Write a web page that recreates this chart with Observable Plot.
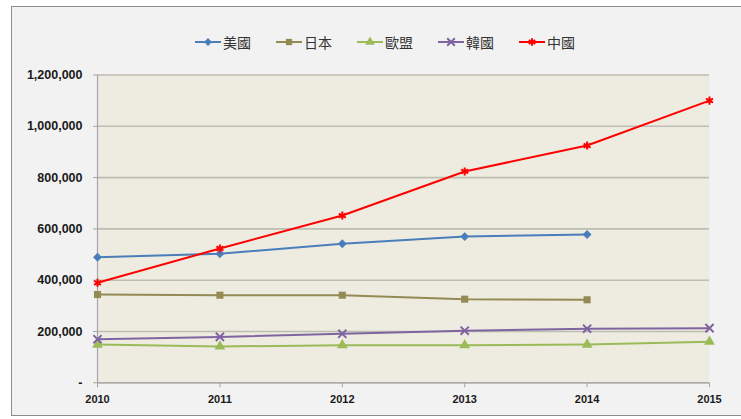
<!DOCTYPE html>
<html><head><meta charset="utf-8">
<script src="https://cdn.jsdelivr.net/npm/d3@7"></script>
<script src="https://cdn.jsdelivr.net/npm/@observablehq/plot@0.6"></script>
<style>
body{margin:0;background:#fff;}
#wrap{position:relative;width:741px;height:419px;overflow:hidden;background:#fff;}
#frame{position:absolute;left:11px;top:6px;width:740px;height:410px;border:1px solid #8c8c8c;background:#f2f2f2;box-sizing:border-box;}
#legend{position:absolute;left:195px;top:33px;height:18px;display:flex;align-items:center;font-family:"Noto Sans CJK TC",sans-serif;font-size:14px;color:#333;}
.item{display:flex;align-items:center;margin-right:25px;}
.item svg{display:block;}
#chart{position:absolute;left:0;top:0;}
</style></head>
<body>
<div id="wrap"><div id="frame"></div><div id="legend"></div><div id="chart"></div></div>
<script>
const years = [2010, 2011, 2012, 2013, 2014, 2015];
const series = ["美國", "日本", "歐盟", "韓國", "中國"];
const usa   = [489700, 503000, 542000, 570000, 578000, null];
const japan = [344000, 341500, 341500, 326000, 323600, null];
const eu    = [149000, 141500, 146600, 146600, 149000, 160000];
const korea = [170000, 179000, 191000, 203000, 211000, 213000];
const china = [390000, 523600, 652000, 824000, 925000, 1100000];
const yTicks = [0, 200000, 400000, 600000, 800000, 1000000, 1200000];
const colors = ["#4a7ebb", "#948a54", "#9bbb59", "#8064a2", "#ff0000"];
const symbols = ["diamond2", "square", "triangle", "times", "asterisk"];
const filledSeries = ["美國", "日本", "歐盟"];

const valuesBySeries = [usa, japan, eu, korea, china];
const data = [];
series.forEach((s, i) => years.forEach((yr, j) => {
  const v = valuesBySeries[i][j];
  if (v != null) data.push({series: s, year: yr, value: v});
}));

const yFmt = d => d === 0 ? "-" : d3.format(",")(d);

const chart = Plot.plot({
  width: 741, height: 419,
  marginLeft: 97, marginRight: 32, marginTop: 74.5, marginBottom: 36.7,
  style: {background: "transparent", fontFamily: "'Liberation Sans', Arial, sans-serif", fontWeight: "bold", color: "#1a1a1a", overflow: "visible"},
  x: {domain: [2010, 2015], label: null},
  y: {domain: [0, 1200000], label: null},
  color: {domain: series, range: colors},
  symbol: {domain: series, range: symbols},
  marks: [
    Plot.frame({fill: "#eeece1", stroke: null}),
    Plot.gridY(yTicks, {stroke: "#bdbdb2", strokeOpacity: 1, strokeWidth: 1.6}),
    Plot.ruleX([2010], {stroke: "#a6a6a6", strokeWidth: 1.2}),
    Plot.ruleY([0], {stroke: "#a6a6a6", strokeWidth: 1.2}),
    Plot.axisY(yTicks, {tickFormat: yFmt, fontSize: 12.5, tickSize: 4, tickPadding: 11, stroke: "#a6a6a6", label: null}),
    Plot.axisX(years, {tickFormat: d => String(d), fontSize: 11, tickSize: 5, tickPadding: 7, stroke: "#a6a6a6", label: null}),
    Plot.line(data, {x: "year", y: "value", z: "series", stroke: "series", strokeWidth: 2}),
    Plot.dot(data.filter(d => filledSeries.includes(d.series)), {x: "year", y: "value", symbol: "series", fill: "series", r: 4}),
    Plot.dot(data.filter(d => !filledSeries.includes(d.series)), {x: "year", y: "value", symbol: "series", stroke: "series", r: 3.8, strokeWidth: 2})
  ]
});
document.getElementById("chart").appendChild(chart);

// legend
const legend = d3.select("#legend");
series.forEach((s, i) => {
  const item = legend.append("div").attr("class", "item");
  const svg = item.append("svg").attr("width", 27).attr("height", 14);
  svg.append("line").attr("x1", 0).attr("x2", 26).attr("y1", 7).attr("y2", 7)
    .attr("stroke", colors[i]).attr("stroke-width", 2);
  const symMap = {diamond2: d3.symbolDiamond2, square: d3.symbolSquare, triangle: d3.symbolTriangle, times: d3.symbolTimes, asterisk: d3.symbolAsterisk};
  const filled = filledSeries.includes(s);
  svg.append("path").attr("transform", "translate(13,7)")
    .attr("d", d3.symbol(symMap[symbols[i]], 40)())
    .attr("fill", filled ? colors[i] : "none")
    .attr("stroke", filled ? "none" : colors[i]).attr("stroke-width", 2);
  item.append("span").text(s).style("margin-left", "1px");
});
</script>
</body></html>
